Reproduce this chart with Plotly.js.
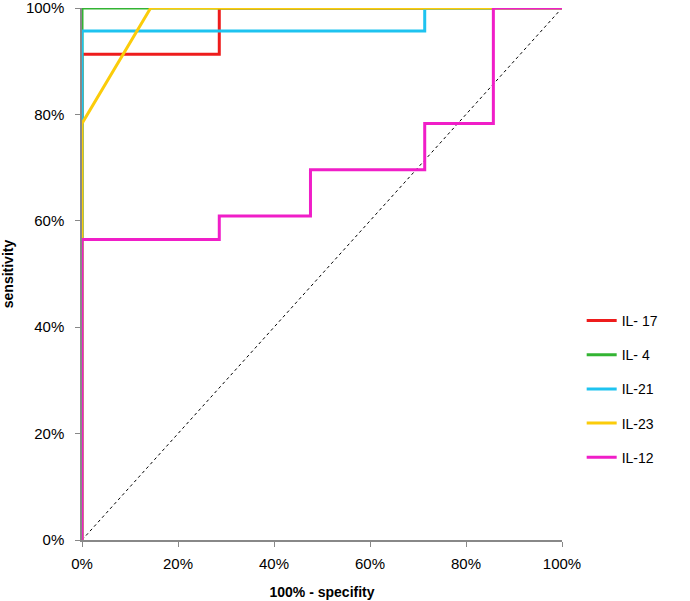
<!DOCTYPE html>
<html><head><meta charset="utf-8">
<script src="https://cdn.plot.ly/plotly-3.0.1.min.js"></script>
<style>html,body{margin:0;padding:0;background:#fff}</style>
</head><body>
<div id="chart" style="width:690px;height:601px"></div>
<script>
const seriesNames = ["IL- 17", "IL- 4", "IL-21", "IL-23", "IL-12"];
const seriesColors = ["#ee1c1c", "#33b433", "#1ec3f0", "#fbcc0a", "#f01ec8"];
const il17_x = [0, 0, 0.286, 0.286, 1];
const il17_y = [0, 0.913, 0.913, 1, 1];
const il4_x = [0, 0, 1];
const il4_y = [0, 1, 1];
const il21_x = [0, 0, 0.714, 0.714, 1];
const il21_y = [0, 0.957, 0.957, 1, 1];
const il23_x = [0, 0, 0.143, 1];
const il23_y = [0, 0.783, 1, 1];
const il12_x = [0, 0, 0.286, 0.286, 0.476, 0.476, 0.714, 0.714, 0.857, 0.857, 1];
const il12_y = [0, 0.565, 0.565, 0.609, 0.609, 0.696, 0.696, 0.783, 0.783, 1, 1];
const refX = [0, 1];
const refY = [0, 1];
const tickVals = [0, 0.2, 0.4, 0.6, 0.8, 1];
const tickText = ["0%", "20%", "40%", "60%", "80%", "100%"];

const xs = [il17_x, il4_x, il21_x, il23_x, il12_x];
const ys = [il17_y, il4_y, il21_y, il23_y, il12_y];

const traces = [{
  x: refX, y: refY, mode: "lines", showlegend: false, hoverinfo: "skip",
  line: {color: "#000", width: 1, dash: "dot"}
}];
for (let i = 0; i < seriesNames.length; i++) {
  traces.push({
    x: xs[i], y: ys[i], name: seriesNames[i], mode: "lines",
    legendgroup: "g" + i,
    line: {color: seriesColors[i], width: 3}
  });
}

const font = "Liberation Sans, Arial, sans-serif";
const layout = {
  width: 690, height: 601,
  margin: {l: 82, r: 128, t: 8, b: 61},
  paper_bgcolor: "#fff", plot_bgcolor: "#fff",
  font: {family: font, size: 15, color: "#000"},
  showlegend: true,
  legend: {x: 1.041, xanchor: "left", y: 0.284, yanchor: "middle",
    font: {family: font, size: 14, color: "#000"},
    tracegroupgap: 13, traceorder: "grouped", bgcolor: "rgba(0,0,0,0)"},
  xaxis: {
    range: [0, 1], tickvals: tickVals, ticktext: tickText,
    showgrid: false, zeroline: false, showline: true, linecolor: "#888", linewidth: 1.5,
    ticks: "outside", ticklen: 5, tickcolor: "#888",
    ticklabelstandoff: 4, ticklabeloverflow: "allow",
    tickfont: {family: font, size: 15},
    title: {text: "<b>100% - specifity</b>", font: {family: font, size: 14}, standoff: 16}
  },
  yaxis: {
    range: [0, 1], tickvals: tickVals, ticktext: tickText,
    showgrid: false, zeroline: false, showline: true, linecolor: "#888", linewidth: 1.5,
    ticks: "outside", ticklen: 5, tickcolor: "#888",
    ticklabelstandoff: 8, ticklabeloverflow: "allow",
    tickfont: {family: font, size: 15},
    title: {text: "<b>sensitivity</b>", font: {family: font, size: 14}, standoff: 14}
  }
};
Plotly.newPlot("chart", traces, layout, {displayModeBar: false});
</script>
</body></html>
